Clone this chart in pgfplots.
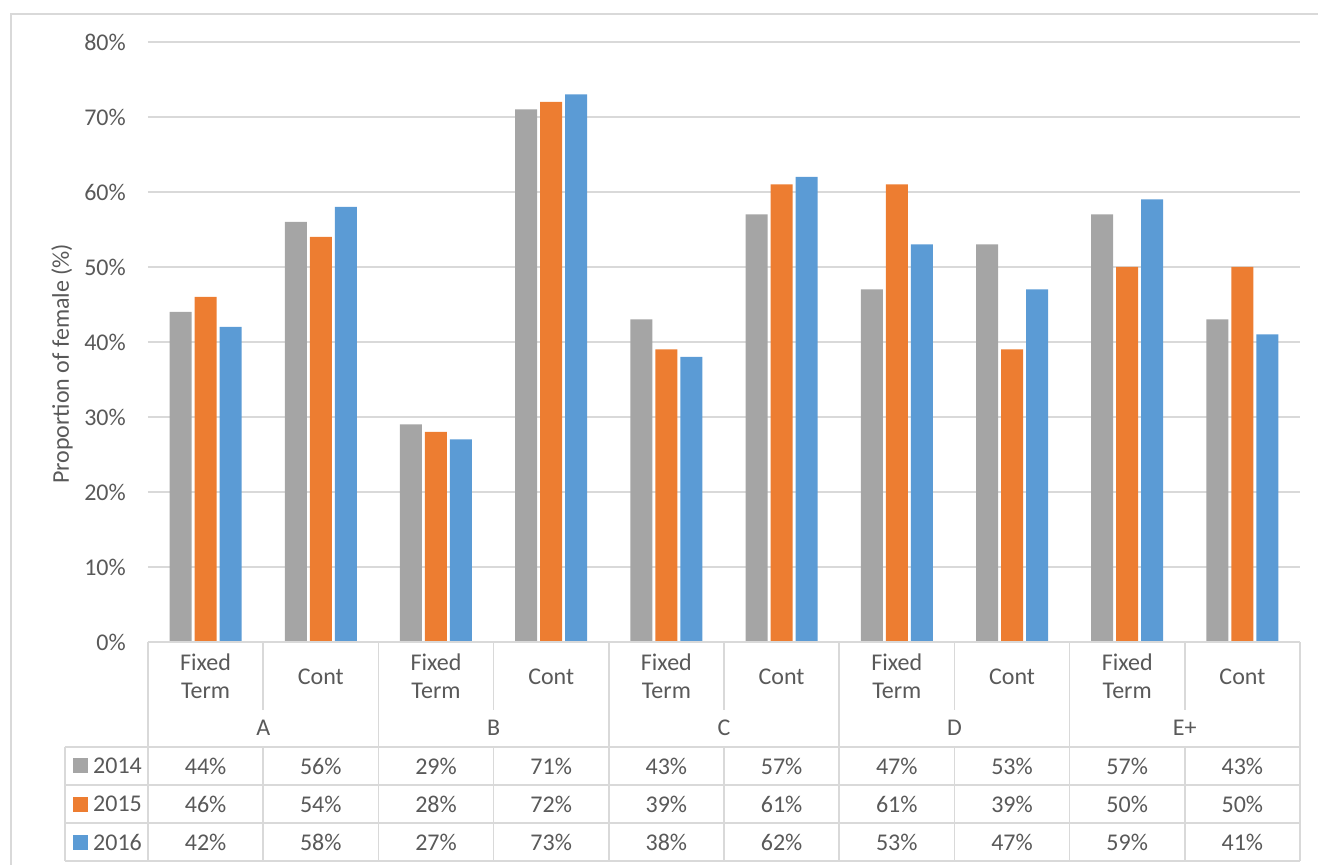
\documentclass[border=0pt]{standalone}
\usepackage{pgfplots}
\usepackage{pgfplotstable}
\usepackage{fontspec}
\setmainfont{Carlito}
\pgfplotsset{compat=1.18}

\definecolor{c2014}{HTML}{A5A5A5}
\definecolor{c2015}{HTML}{ED7D31}
\definecolor{c2016}{HTML}{5B9BD5}
\definecolor{txt}{HTML}{595959}
\definecolor{rule}{HTML}{D9D9D9}

% share of women by grade (A..E+) and contract type, 2014-2016
\pgfplotstableread{
x    y2014 y2015 y2016
0.5  44    46    42
1.5  56    54    58
2.5  29    28    27
3.5  71    72    73
4.5  43    39    38
5.5  57    61    62
6.5  47    61    53
7.5  53    39    47
8.5  57    50    59
9.5  43    50    41
}\data

\newcommand{\lab}{\fontsize{24}{28.7}\selectfont}

\begin{document}
\begin{tikzpicture}[every node/.style={font=\lab, text=txt}]
\path[use as bounding box] (-148pt,-223pt) rectangle (1170pt,642pt);
% outer chart frame
\draw[rule, line width=1.5pt] (-137pt,-240pt) -- (-137pt,628pt) -- (1190pt,628pt);
\begin{axis}[
  at={(0,0)}, anchor=south west,
  scale only axis, width=1152pt, height=600pt,
  xmin=0, xmax=10, ymin=0, ymax=80,
  clip=false,
  axis line style={draw=none},
  xtick=\empty,
  ytick={0,10,...,80},
  major tick length=0pt,
  ymajorgrids, grid style={rule, line width=1.5pt},
  /pgf/number format/assume math mode=true,
  yticklabel={\pgfmathprintnumber{\tick}\%},
  yticklabel style={anchor=east, inner sep=0pt, xshift=-22pt, font=\lab, text=txt},
]
\addplot[ybar, bar width=22pt, bar shift=-25pt, fill=c2014, draw=none] table[x=x, y=y2014]{\data};
\addplot[ybar, bar width=22pt, bar shift=0pt,   fill=c2015, draw=none] table[x=x, y=y2015]{\data};
\addplot[ybar, bar width=22pt, bar shift=25pt,  fill=c2016, draw=none] table[x=x, y=y2016]{\data};

% data table values
\pgfplotsset{tabrow/.style={only marks, mark=none, point meta=explicit,
  nodes near coords={\pgfmathprintnumber{\pgfplotspointmeta}\%},
  nodes near coords align=center,
  every node near coord/.append style={anchor=center, font=\lab, text=txt}}}
\addplot[tabrow] table[x=x, y expr=-16.53, meta=y2014]{\data};
\addplot[tabrow] table[x=x, y expr=-21.6,  meta=y2015]{\data};
\addplot[tabrow] table[x=x, y expr=-26.67, meta=y2016]{\data};

% table rules
\draw[rule, line width=1.5pt] (axis cs:0,0) -- (axis cs:10,0);
\pgfplotsinvokeforeach{-14,-19.07,-24.13,-29.2}{
  \draw[rule, line width=1.5pt] ([xshift=-83pt]axis cs:0,#1) -- (axis cs:10,#1);
}
\pgfplotsinvokeforeach{0,2,4,6,8,10}{
  \draw[rule, line width=1.5pt] (axis cs:#1,0) -- (axis cs:#1,-29.2);
}
\pgfplotsinvokeforeach{1,3,5,7,9}{
  \draw[rule, line width=1.5pt] (axis cs:#1,0) -- (axis cs:#1,-9.07);
  \draw[rule, line width=1.5pt] (axis cs:#1,-14) -- (axis cs:#1,-29.2);
}
\draw[rule, line width=1.5pt] ([xshift=-83pt]axis cs:0,-14) -- ([xshift=-83pt]axis cs:0,-29.2);

% category and group labels
\pgfplotsinvokeforeach{0.5,2.5,4.5,6.5,8.5}{
  \node[align=center, anchor=center] at (axis cs:#1,-4.55) {Fixed\\Term};
}
\pgfplotsinvokeforeach{1.5,3.5,5.5,7.5,9.5}{
  \node[anchor=center] at (axis cs:#1,-4.6) {Cont};
}
\node at (axis cs:1,-11.5) {A};
\node at (axis cs:3,-11.5) {B};
\node at (axis cs:5,-11.5) {C};
\node at (axis cs:7,-11.5) {D};
\node at (axis cs:9,-11.5) {E+};

% series keys
\fill[c2014] ([xshift=-75pt,yshift=-7.5pt]axis cs:0,-16.53) rectangle ([xshift=-60pt,yshift=7.5pt]axis cs:0,-16.53);
\fill[c2015] ([xshift=-75pt,yshift=-7.5pt]axis cs:0,-21.6) rectangle ([xshift=-60pt,yshift=7.5pt]axis cs:0,-21.6);
\fill[c2016] ([xshift=-75pt,yshift=-7.5pt]axis cs:0,-26.67) rectangle ([xshift=-60pt,yshift=7.5pt]axis cs:0,-26.67);
\node[anchor=west, inner sep=0pt] at ([xshift=-55pt]axis cs:0,-16.53) {2014};
\node[anchor=west, inner sep=0pt] at ([xshift=-55pt]axis cs:0,-21.6) {2015};
\node[anchor=west, inner sep=0pt] at ([xshift=-55pt]axis cs:0,-26.67) {2016};

% value axis title
\node[rotate=90, anchor=center] at ([xshift=-86pt]axis cs:0,37.1) {Proportion of female (\%)};
\end{axis}
\end{tikzpicture}
\end{document}
